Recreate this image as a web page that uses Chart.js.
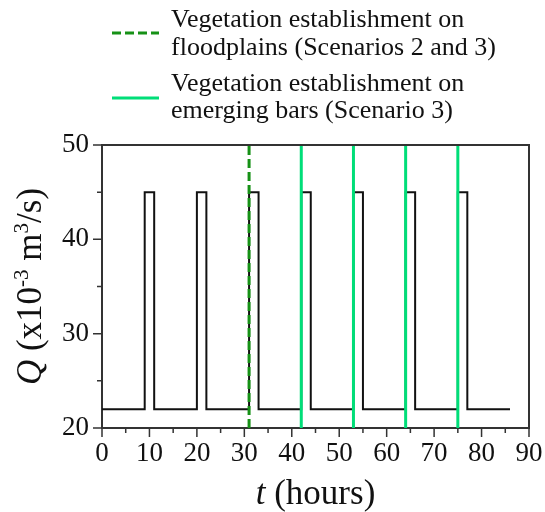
<!DOCTYPE html>
<html lang="en">
<head>
<meta charset="UTF-8">
<title>Discharge hydrograph</title>
<script src="https://cdn.jsdelivr.net/npm/chart.js"></script>
<style>
    html, body { margin: 0; padding: 0; background: #fff; }
</style>
</head>
<body>
<canvas id="hydrograph" width="545" height="512"></canvas>
<script>
    // step hydrograph: each time (hours) where Q changes, and the Q held from there on
    const stepTimes = [0, 9, 11, 20, 22, 31, 33, 42, 44, 53, 55, 64, 66, 75, 77, 86];
    const stepQ = [22, 45, 22, 45, 22, 45, 22, 45, 22, 45, 22, 45, 22, 45, 22, 22];

    // vegetation establishment times (hours)
    const floodplainTimes = [31];
    const barTimes = [42, 53, 64, 75];

    const xTicks = [0, 10, 20, 30, 40, 50, 60, 70, 80, 90];
    const yTicks = [20, 30, 40, 50];

    const legendItems = [
        ['Vegetation establishment on', 'floodplains (Scenarios 2 and 3)'],
        ['Vegetation establishment on', 'emerging bars (Scenario 3)']
    ];

    const SERIF = '"Liberation Serif", "Times New Roman", serif';
    const DARK_GREEN = '#169116';
    const BRIGHT_GREEN = '#00de78';
    const FRAME = '#333';

    const yMin = yTicks[0], yMax = yTicks[yTicks.length - 1];
    const xMin = xTicks[0], xMax = xTicks[xTicks.length - 1];

    function verticalLine(t) {
        return [{ x: t, y: yMin }, { x: t, y: yMax }];
    }

    const datasets = [];
    floodplainTimes.forEach(t => datasets.push({
        data: verticalLine(t), borderColor: DARK_GREEN, borderWidth: 3,
        borderDash: [9, 4], pointRadius: 0
    }));
    barTimes.forEach(t => datasets.push({
        data: verticalLine(t), borderColor: BRIGHT_GREEN, borderWidth: 3, pointRadius: 0
    }));
    datasets.push({
        data: stepTimes.map((t, i) => ({ x: t, y: stepQ[i] })),
        borderColor: '#111', borderWidth: 2, pointRadius: 0, stepped: 'before'
    });

    // draws text made of pieces (italic / superscript) centred on x at baseline y
    function drawRich(ctx, parts, x, y, size) {
        const fontFor = p => (p.italic ? 'italic ' : '') + Math.round(p.sup ? size * 0.6 : size) + 'px ' + SERIF;
        let total = 0;
        parts.forEach(p => { ctx.font = fontFor(p); total += ctx.measureText(p.text).width; });
        let cx = x - total / 2;
        ctx.textAlign = 'left';
        ctx.textBaseline = 'alphabetic';
        parts.forEach(p => {
            ctx.font = fontFor(p);
            ctx.fillText(p.text, cx, p.sup ? y - size * 0.38 : y);
            cx += ctx.measureText(p.text).width;
        });
    }

    const decorations = {
        id: 'decorations',
        afterDatasetsDraw(chart) {
            const ctx = chart.ctx;
            const area = chart.chartArea;
            const xs = chart.scales.x, ys = chart.scales.y;
            ctx.save();

            // top and right frame
            ctx.strokeStyle = FRAME;
            ctx.lineWidth = 2;
            ctx.beginPath();
            ctx.moveTo(area.left, area.top);
            ctx.lineTo(area.right, area.top);
            ctx.lineTo(area.right, area.bottom);
            ctx.stroke();

            // outward tick marks, major every label, minor halfway
            ctx.lineWidth = 1.5;
            ctx.beginPath();
            for (let i = 0; i < xTicks.length; i++) {
                const px = xs.getPixelForValue(xTicks[i]);
                ctx.moveTo(px, area.bottom);
                ctx.lineTo(px, area.bottom + 9);
                if (i < xTicks.length - 1) {
                    const mx = xs.getPixelForValue((xTicks[i] + xTicks[i + 1]) / 2);
                    ctx.moveTo(mx, area.bottom);
                    ctx.lineTo(mx, area.bottom + 5);
                }
            }
            for (let i = 0; i < yTicks.length; i++) {
                const py = ys.getPixelForValue(yTicks[i]);
                ctx.moveTo(area.left, py);
                ctx.lineTo(area.left - 9, py);
                if (i < yTicks.length - 1) {
                    const my = ys.getPixelForValue((yTicks[i] + yTicks[i + 1]) / 2);
                    ctx.moveTo(area.left, my);
                    ctx.lineTo(area.left - 5, my);
                }
            }
            ctx.stroke();

            // axis titles
            ctx.fillStyle = '#111';
            drawRich(ctx, [{ text: 't', italic: true }, { text: ' (hours)' }],
                (area.left + area.right) / 2, 504, 35);
            ctx.save();
            ctx.translate(41, (area.top + area.bottom) / 2);
            ctx.rotate(-Math.PI / 2);
            drawRich(ctx, [
                { text: 'Q', italic: true }, { text: ' (x10' }, { text: '-3', sup: true },
                { text: ' m' }, { text: '3', sup: true }, { text: '/s)' }
            ], 0, 0, 35);
            ctx.restore();

            // legend
            const samples = [
                { color: DARK_GREEN, dash: [9, 4], y: 33, baselines: [27, 55] },
                { color: BRIGHT_GREEN, dash: [], y: 98, baselines: [91, 118] }
            ];
            samples.forEach((s, i) => {
                ctx.strokeStyle = s.color;
                ctx.lineWidth = 3;
                ctx.setLineDash(s.dash);
                ctx.beginPath();
                ctx.moveTo(112, s.y);
                ctx.lineTo(159, s.y);
                ctx.stroke();
                ctx.setLineDash([]);
                ctx.font = '26px ' + SERIF;
                ctx.textAlign = 'left';
                ctx.textBaseline = 'alphabetic';
                legendItems[i].forEach((line, j) => ctx.fillText(line, 171, s.baselines[j]));
            });
            ctx.restore();
        }
    };

    const tickFont = { family: SERIF, size: 27 };

    new Chart(document.getElementById('hydrograph').getContext('2d'), {
        type: 'line',
        data: { datasets: datasets },
        options: {
            responsive: false,
            animation: false,
            layout: { padding: { top: 145, right: 16, left: 0, bottom: 0 } },
            plugins: { legend: { display: false }, tooltip: { enabled: false } },
            scales: {
                x: {
                    type: 'linear', min: xMin, max: xMax,
                    afterBuildTicks: scale => { scale.ticks = xTicks.map(v => ({ value: v })); },
                    afterFit: scale => {
                        scale.height = 84;
                        scale.paddingLeft = 0;
                        scale.paddingRight = 0;
                    },
                    ticks: { font: tickFont, color: '#111', padding: 10, maxRotation: 0, autoSkip: false },
                    grid: { display: false, drawTicks: false },
                    border: { display: true, color: FRAME, width: 2 }
                },
                y: {
                    type: 'linear', min: yMin, max: yMax,
                    afterBuildTicks: scale => { scale.ticks = yTicks.map(v => ({ value: v })); },
                    afterFit: scale => { scale.width = 102; },
                    ticks: { font: tickFont, color: '#111', padding: 13 },
                    grid: { display: false, drawTicks: false },
                    border: { display: true, color: FRAME, width: 2 }
                }
            }
        },
        plugins: [decorations]
    });
</script>
</body>
</html>
